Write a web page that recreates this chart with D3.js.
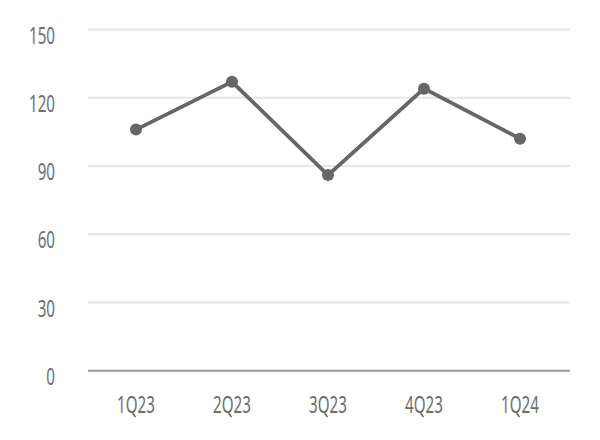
<!DOCTYPE html>
<html>
<head>
<meta charset="utf-8">
<script src="https://cdn.jsdelivr.net/npm/d3@7"></script>
<style>
  body { margin: 0; background: #fff; }
  text { font-family: "Noto Sans", "DejaVu Sans", sans-serif; fill: #6e6e6e; }
</style>
</head>
<body>
<svg id="chart" width="600" height="440"></svg>
<script>
var quarters = ["1Q23", "2Q23", "3Q23", "4Q23", "1Q24"];
var values = [106, 127, 86, 124, 102];
var yTicks = [0, 30, 60, 90, 120, 150];

var svg = d3.select("#chart"),
    plotLeft = 88, plotRight = 570, plotTop = 29.5, plotBottom = 370.7,
    squeeze = 0.66;

var x = d3.scaleBand().domain(quarters).range([plotLeft, plotRight - 2]);
var y = d3.scaleLinear().domain([0, 150]).range([plotBottom, plotTop]);

// gridlines
svg.append("g").selectAll("line")
  .data(yTicks.filter(function(d) { return d > 0; }))
  .enter().append("line")
  .attr("x1", plotLeft).attr("x2", plotRight)
  .attr("y1", function(d) { return y(d); })
  .attr("y2", function(d) { return y(d); })
  .attr("stroke", "#e6e6e6")
  .attr("stroke-width", 2);

// y labels (condensed text, sitting a little below the gridline)
svg.append("g").selectAll("text")
  .data(yTicks)
  .enter().append("text")
  .attr("transform", function(d) { return "translate(55," + (y(d) + 6) + ") scale(" + squeeze + ",1)"; })
  .attr("dy", "0.35em")
  .attr("text-anchor", "end")
  .attr("font-size", 23)
  .text(function(d) { return d; });

// baseline
svg.append("line")
  .attr("x1", plotLeft).attr("x2", plotRight)
  .attr("y1", y(0)).attr("y2", y(0))
  .attr("stroke", "#999")
  .attr("stroke-width", 2);

// x labels
svg.append("g").selectAll("text")
  .data(quarters)
  .enter().append("text")
  .attr("transform", function(d) { return "translate(" + (x(d) + x.bandwidth() / 2) + ",405) scale(" + squeeze + ",1)"; })
  .attr("dy", "0.35em")
  .attr("text-anchor", "middle")
  .attr("font-size", 23)
  .text(function(d) { return d; });

var line = d3.line()
  .x(function(d, i) { return x(quarters[i]) + x.bandwidth() / 2; })
  .y(function(d) { return y(d); });

svg.append("path")
  .datum(values)
  .attr("d", line)
  .attr("fill", "none")
  .attr("stroke", "#666")
  .attr("stroke-width", 3.8);

svg.append("g").selectAll("circle")
  .data(values)
  .enter().append("circle")
  .attr("cx", function(d, i) { return x(quarters[i]) + x.bandwidth() / 2; })
  .attr("cy", function(d) { return y(d); })
  .attr("r", 6)
  .attr("fill", "#666");
</script>
</body>
</html>
